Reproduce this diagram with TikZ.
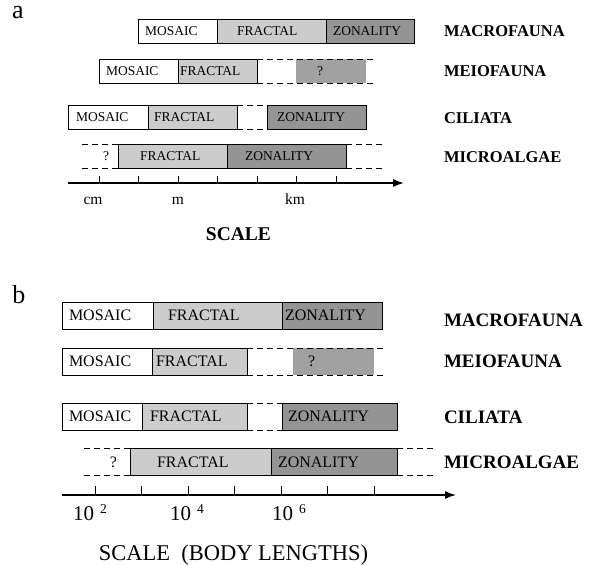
\documentclass[tikz,border=0pt]{standalone}
\usepackage{fontspec}
\setmainfont{Liberation Serif}
\usetikzlibrary{positioning, arrows.meta}

\definecolor{fractal}{gray}{0.80}
\definecolor{zonality}{gray}{0.58}
\definecolor{unknown}{gray}{0.63}

\begin{document}
\begin{tikzpicture}[x=1pt, y=-1pt, inner sep=0, outer sep=0,
  seg/.style={rectangle, draw=black, line width=0.7pt, anchor=west},
  segA/.style={seg, minimum height=24pt},
  segB/.style={seg, minimum height=27pt},
  txtA/.style={font=\fontsize{13.5}{14}\selectfont, anchor=west},
  txtB/.style={font=\fontsize{16}{17}\selectfont, anchor=west},
  taxonA/.style={font=\bfseries\fontsize{16.5}{17}\selectfont, anchor=west},
  taxonB/.style={font=\bfseries\fontsize{19}{20}\selectfont, anchor=west},
  gap/.style={line width=0.7pt, dash pattern=on 6pt off 4pt},
  axis/.style={line width=1.3pt, -{Latex[length=11pt, width=8pt]}},
  tick/.style={line width=0.8pt},
  expo/.style={font=\fontsize{21}{22}\selectfont, anchor=base west}]
  \useasboundingbox (0,0) rectangle (601,564);

  % ---------------- panel a ----------------
  \node[font=\fontsize{26}{26}\selectfont] (panelA) at (18,13) {a};

  % macrofauna
  \node[segA, minimum width=79pt, fill=white] (aMacMos) at (138,31) {};
  \node[segA, minimum width=109pt, fill=fractal] (aMacFra) at (aMacMos.east) {};
  \node[segA, minimum width=88pt, fill=zonality] (aMacZon) at (aMacFra.east) {};
  \node[txtA, right=7pt of aMacMos.west] (tAMacMos) {MOSAIC};
  \node[txtA, right=20pt of aMacFra.west] (tAMacFra) {FRACTAL};
  \node[txtA, right=7pt of aMacZon.west] (tAMacZon) {ZONALITY};
  \node[taxonA] (aMac) at (444,31) {MACROFAUNA};

  % meiofauna
  \node[segA, minimum width=79pt, fill=white] (aMeiMos) at (99,71) {};
  \node[segA, minimum width=79pt, fill=fractal] (aMeiFra) at (aMeiMos.east) {};
  \node[segA, draw=none, minimum width=70pt, fill=unknown] (aMeiUnk) at (296,71) {};
  \draw[gap] (aMeiFra.north east) -- ++(119,0);
  \draw[gap] (aMeiFra.south east) -- ++(119,0);
  \node[txtA, right=7pt of aMeiMos.west] (tAMeiMos) {MOSAIC};
  \node[txtA, right=2pt of aMeiFra.west] (tAMeiFra) {FRACTAL};
  \node[txtA, right=21pt of aMeiUnk.west] (tAMeiUnk) {?};
  \node[taxonA] (aMei) at (444,71) {MEIOFAUNA};

  % ciliata
  \node[segA, minimum width=80pt, fill=white] (aCilMos) at (68,117) {};
  \node[segA, minimum width=89pt, fill=fractal] (aCilFra) at (aCilMos.east) {};
  \node[segA, minimum width=99pt, fill=zonality] (aCilZon) at (267,117) {};
  \draw[gap] (aCilFra.north east) -- (aCilZon.north west);
  \draw[gap] (aCilFra.south east) -- (aCilZon.south west);
  \node[txtA, right=8pt of aCilMos.west] (tACilMos) {MOSAIC};
  \node[txtA, right=6pt of aCilFra.west] (tACilFra) {FRACTAL};
  \node[txtA, right=10pt of aCilZon.west] (tACilZon) {ZONALITY};
  \node[taxonA] (aCil) at (444,118) {CILIATA};

  % microalgae
  \node[segA, minimum width=109pt, fill=fractal] (aMicFra) at (118,156) {};
  \node[segA, minimum width=119pt, fill=zonality] (aMicZon) at (aMicFra.east) {};
  \draw[gap] (aMicFra.north west) -- ++(-39,0);
  \draw[gap] (aMicFra.south west) -- ++(-39,0);
  \draw[gap] (aMicZon.north east) -- ++(36,0);
  \draw[gap] (aMicZon.south east) -- ++(36,0);
  \node[txtA, left=9pt of aMicFra.west] (tAMicUnk) {?};
  \node[txtA, right=22pt of aMicFra.west] (tAMicFra) {FRACTAL};
  \node[txtA, right=18pt of aMicZon.west] (tAMicZon) {ZONALITY};
  \node[taxonA] (aMic) at (444,157) {MICROALGAE};

  % axis
  \coordinate (aAxL) at (68,183);
  \coordinate (aAxR) at (404,183);
  \draw[axis] (aAxL) -- (aAxR);
  \foreach \x in {99,138.5,...,336}
    \draw[tick] (\x,183) -- ++(0,-7);
  \node[font=\fontsize{15.5}{16}\selectfont, anchor=base] (aCm) at (93,204) {cm};
  \node[font=\fontsize{15.5}{16}\selectfont, anchor=base] (aM) at (178,204) {m};
  \node[font=\fontsize{15.5}{16}\selectfont, anchor=base] (aKm) at (295,204) {km};
  \node[font=\bfseries\fontsize{19.5}{20}\selectfont] (aScale) at (238.5,234) {SCALE};

  % ---------------- panel b ----------------
  \node[font=\fontsize{26}{26}\selectfont] (panelB) at (19,295) {b};

  % macrofauna
  \node[segB, minimum width=91pt, fill=white] (bMacMos) at (62,315.5) {};
  \node[segB, minimum width=129pt, fill=fractal] (bMacFra) at (bMacMos.east) {};
  \node[segB, minimum width=100pt, fill=zonality] (bMacZon) at (bMacFra.east) {};
  \node[txtB, right=7pt of bMacMos.west] (tBMacMos) {MOSAIC};
  \node[txtB, right=15pt of bMacFra.west] (tBMacFra) {FRACTAL};
  \node[txtB, right=3pt of bMacZon.west] (tBMacZon) {ZONALITY};
  \node[taxonB] (bMac) at (444,320) {MACROFAUNA};

  % meiofauna
  \node[segB, minimum width=90pt, fill=white] (bMeiMos) at (62,361.5) {};
  \node[segB, minimum width=95pt, fill=fractal] (bMeiFra) at (bMeiMos.east) {};
  \node[segB, draw=none, minimum width=81pt, fill=unknown] (bMeiUnk) at (293,361.5) {};
  \draw[gap] (bMeiFra.north east) -- ++(138,0);
  \draw[gap] (bMeiFra.south east) -- ++(138,0);
  \node[txtB, right=7pt of bMeiMos.west] (tBMeiMos) {MOSAIC};
  \node[txtB, right=4pt of bMeiFra.west] (tBMeiFra) {FRACTAL};
  \node[txtB, right=15pt of bMeiUnk.west] (tBMeiUnk) {?};
  \node[taxonB] (bMei) at (444,361) {MEIOFAUNA};

  % ciliata
  \node[segB, minimum width=80pt, fill=white] (bCilMos) at (62,416.5) {};
  \node[segB, minimum width=105pt, fill=fractal] (bCilFra) at (bCilMos.east) {};
  \node[segB, minimum width=115pt, fill=zonality] (bCilZon) at (282,416.5) {};
  \draw[gap] (bCilFra.north east) -- (bCilZon.north west);
  \draw[gap] (bCilFra.south east) -- (bCilZon.south west);
  \node[txtB, right=7pt of bCilMos.west] (tBCilMos) {MOSAIC};
  \node[txtB, right=8pt of bCilFra.west] (tBCilFra) {FRACTAL};
  \node[txtB, right=6pt of bCilZon.west] (tBCilZon) {ZONALITY};
  \node[taxonB] (bCil) at (444,417.5) {CILIATA};

  % microalgae
  \node[segB, minimum width=141pt, fill=fractal] (bMicFra) at (130,462) {};
  \node[segB, minimum width=126pt, fill=zonality] (bMicZon) at (bMicFra.east) {};
  \draw[gap] (bMicFra.north west) -- ++(-47,0);
  \draw[gap] (bMicFra.south west) -- ++(-47,0);
  \draw[gap] (bMicZon.north east) -- ++(36,0);
  \draw[gap] (bMicZon.south east) -- ++(36,0);
  \node[txtB, left=13pt of bMicFra.west] (tBMicUnk) {?};
  \node[txtB, right=27pt of bMicFra.west] (tBMicFra) {FRACTAL};
  \node[txtB, right=7pt of bMicZon.west] (tBMicZon) {ZONALITY};
  \node[taxonB] (bMic) at (444,462.5) {MICROALGAE};

  % axis
  \coordinate (bAxL) at (62,495);
  \coordinate (bAxR) at (456,495);
  \draw[axis] (bAxL) -- (bAxR);
  \foreach \x in {95,141.5,...,374}
    \draw[tick] (\x,495) -- ++(0,-9);
  \node[expo] (bE2) at (73,520) {10\hspace{6pt}\raisebox{6.5pt}{\fontsize{13.5}{14}\selectfont 2}};
  \node[expo] (bE4) at (170,520) {10\hspace{6pt}\raisebox{6.5pt}{\fontsize{13.5}{14}\selectfont 4}};
  \node[expo] (bE6) at (272,520) {10\hspace{6pt}\raisebox{6.5pt}{\fontsize{13.5}{14}\selectfont 6}};
  \node[font=\fontsize{22.5}{23}\selectfont, anchor=base] (bScale) at (233.5,560) {SCALE\ \ (BODY LENGTHS)};
\end{tikzpicture}
\end{document}
